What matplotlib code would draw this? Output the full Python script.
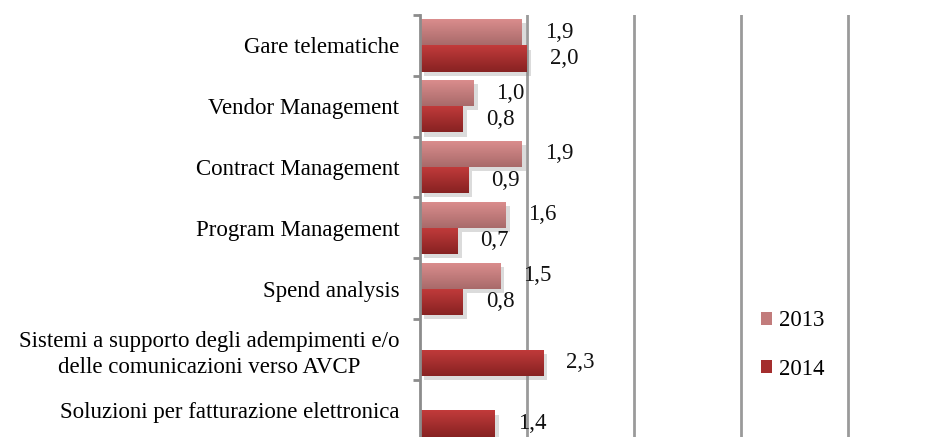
import numpy as np
import matplotlib
matplotlib.use("Agg")
import matplotlib.pyplot as plt
from matplotlib.colors import LinearSegmentedColormap
from matplotlib.patches import Patch
import matplotlib.patheffects as pe

categories = [
    "Gare telematiche",
    "Vendor Management",
    "Contract Management",
    "Program Management",
    "Spend analysis",
    "Sistemi a supporto degli adempimenti e/o\ndelle comunicazioni verso AVCP",
    "Soluzioni per fatturazione elettronica",
]
values_2013 = [1.9, 1.0, 1.9, 1.6, 1.5, None, None]
values_2014 = [2.0, 0.8, 0.9, 0.7, 0.8, 2.3, 1.4]
series_labels = ["2013", "2014"]

plt.rcParams["font.family"] = ["Liberation Serif", "DejaVu Serif"]
FS = 16.5

W, H = 948, 437
fig = plt.figure(figsize=(W / 100, H / 100), dpi=100)
left_px, top_px = 420, 15
band_px = 60.83
n = len(categories)
x8_px = 848
xmax = 8.6
ax_w_px = (x8_px - left_px) / 8 * xmax
ax_h_px = band_px * n
ax = fig.add_axes([left_px / W, (H - top_px - ax_h_px) / H, ax_w_px / W, ax_h_px / H])

ax.set_xlim(0, xmax)
ax.set_ylim(n, 0)

bh = 0.43
off13 = -0.215
off14 = 0.215

cm13 = LinearSegmentedColormap.from_list("c13", ["#dc8e8e", "#a86a6a"])
cm14 = LinearSegmentedColormap.from_list("c14", ["#c23b3b", "#872222"])
grad = np.linspace(0, 1, 64).reshape(-1, 1)

def draw_bars(vals, off, cmap):
    for i, v in enumerate(vals):
        if v is None:
            continue
        yc = i + 0.5 + off
        bars = ax.barh(yc, v, height=bh, color=cmap(0.5), zorder=3,
                       path_effects=[pe.SimplePatchShadow(offset=(3, -3), shadow_rgbFace="#888888", alpha=0.3), pe.Normal()])
        patch = bars[0]
        im = ax.imshow(grad, extent=[0, v, yc + bh / 2, yc - bh / 2], cmap=cmap,
                       aspect="auto", zorder=4, interpolation="bilinear")
        im.set_clip_path(patch)
        ax.annotate(f"{v:.1f}".replace(".", ","), xy=(v, yc), xytext=(16.5, 0),
                    textcoords="offset points", ha="left", va="center",
                    fontsize=FS, color="#111111", zorder=5)

draw_bars(values_2013, off13, cm13)
draw_bars(values_2014, off14, cm14)
ax.set_xlim(0, xmax)
ax.set_ylim(n, 0)

for xv in [2, 4, 6, 8]:
    ax.axvline(xv, color="#9a9a9a", lw=2, zorder=1)

for s in ["top", "right", "bottom"]:
    ax.spines[s].set_visible(False)
ax.spines["left"].set_color("#8c8c8c")
ax.spines["left"].set_linewidth(2)
ax.spines["left"].set_zorder(6)

ax.set_xticks([])
ax.set_yticks([i + 0.5 for i in range(n)])
ax.set_yticklabels(categories, fontsize=FS, multialignment="center", linespacing=1.3)
ax.tick_params(axis="y", which="major", length=0, pad=15)
ax.set_yticks(list(range(n + 1)), minor=True)
ax.tick_params(axis="y", which="minor", length=5, width=2, color="#8c8c8c")

handles = [Patch(facecolor=cm13(0.5), edgecolor="none"), Patch(facecolor=cm14(0.5), edgecolor="none")]
fig.legend(handles, series_labels, loc="center left", bbox_to_anchor=(740 / W, 1 - 345 / H),
           frameon=False, fontsize=FS, handlelength=0.5, handleheight=0.5, handletextpad=0.3,
           labelspacing=1.2)

fig.savefig("out.png", dpi=100)
